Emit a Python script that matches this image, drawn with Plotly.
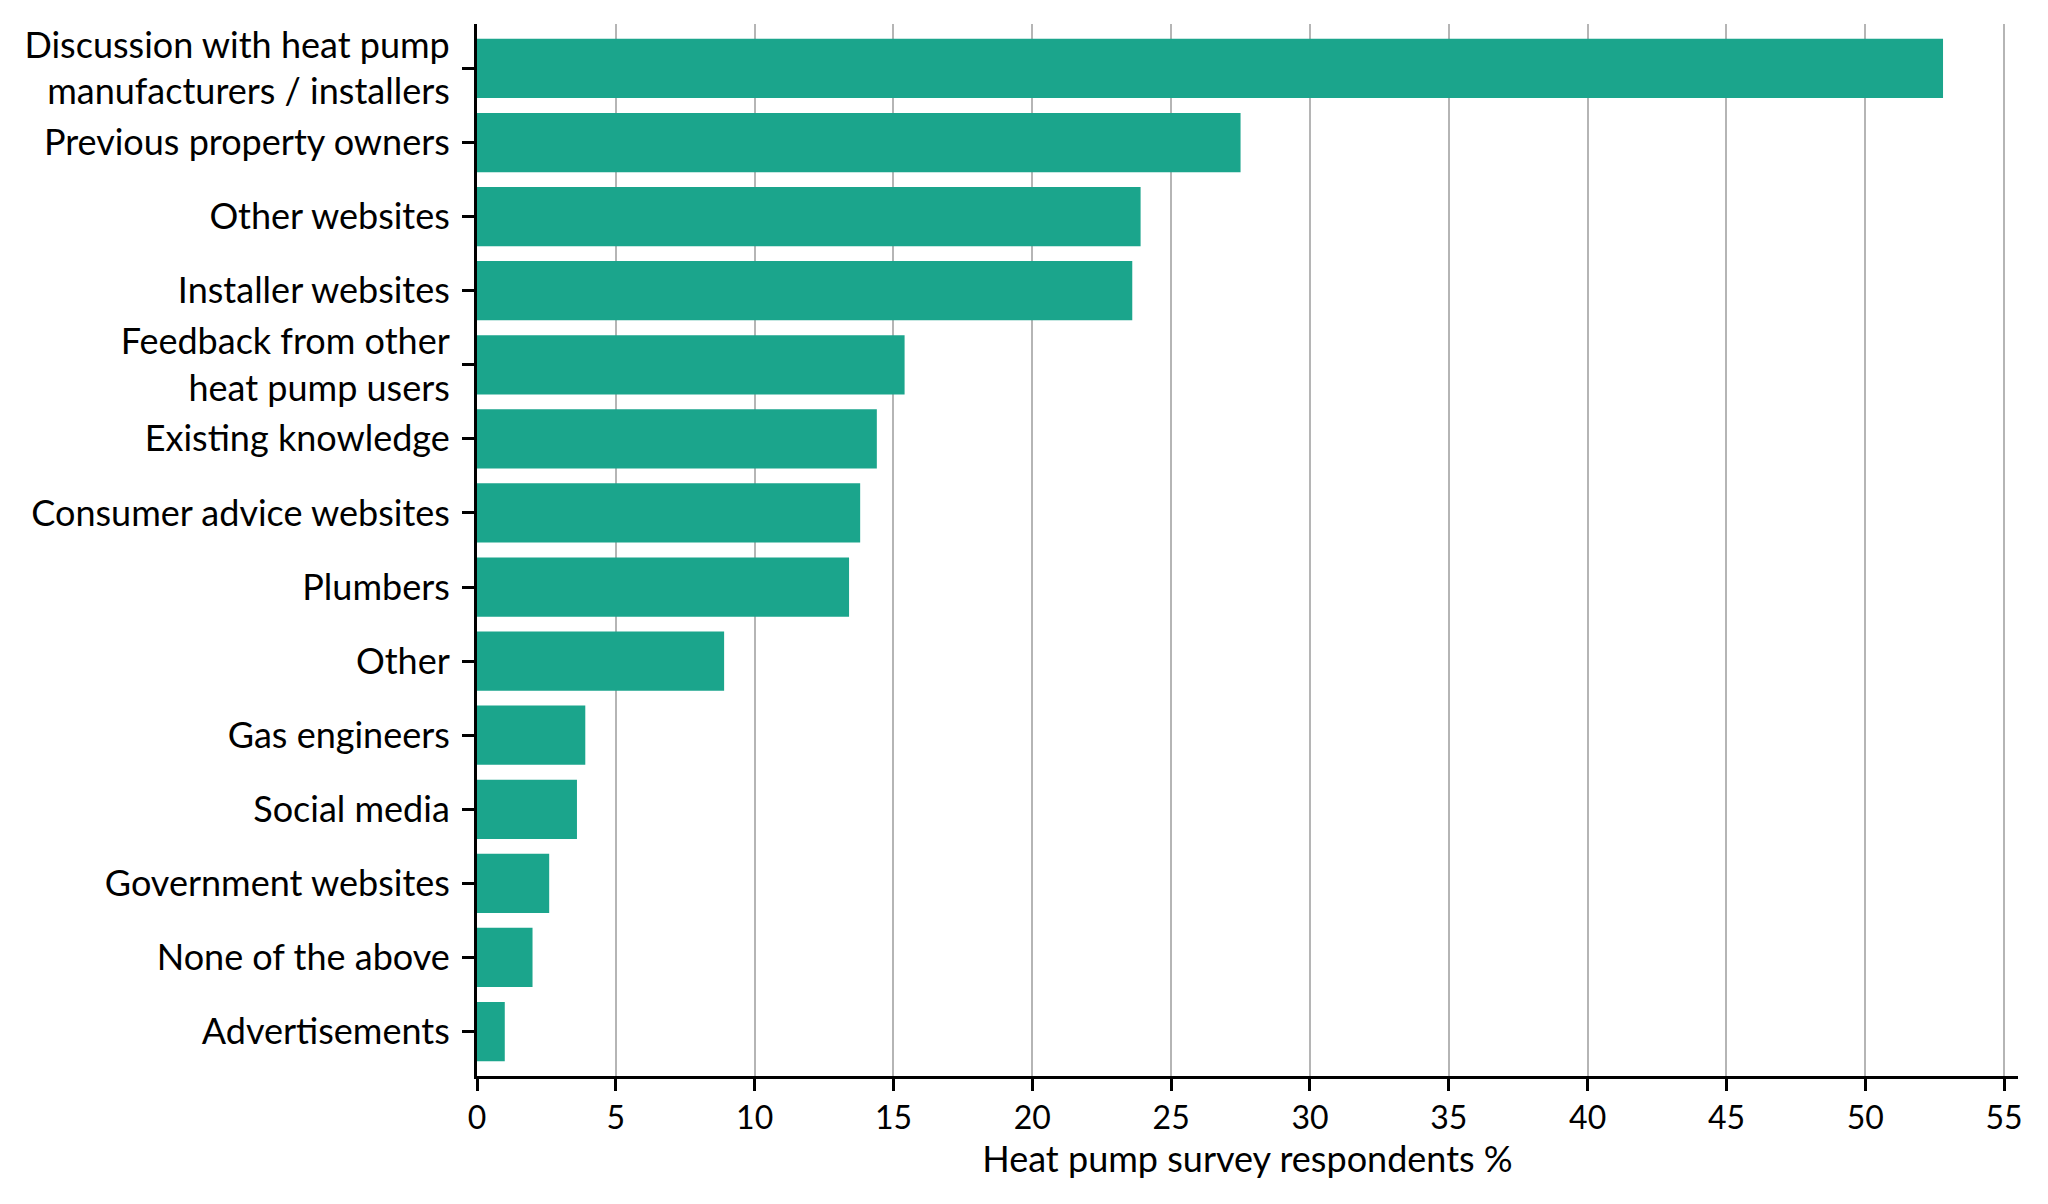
import plotly.graph_objects as go

# Fuentes de informacion (de arriba a abajo)
fuentes = [
    "Discussion with heat pump<br>manufacturers / installers",
    "Previous property owners",
    "Other websites",
    "Installer websites",
    "Feedback from other<br>heat pump users",
    "Existing knowledge",
    "Consumer advice websites",
    "Plumbers",
    "Other",
    "Gas engineers",
    "Social media",
    "Government websites",
    "None of the above",
    "Advertisements",
]
porcentajes = [52.8, 27.5, 23.9, 23.6, 15.4, 14.4, 13.8, 13.4, 8.9, 3.9, 3.6, 2.6, 2.0, 1.0]
ticks_x = list(range(0, 56, 5))

fig = go.Figure()
fig.add_trace(go.Bar(
    x=porcentajes,
    y=fuentes,
    orientation="h",
    marker=dict(color="#1ba58c", line=dict(width=0)),
))

fig.update_layout(
    width=2040,
    height=1196,
    plot_bgcolor="white",
    paper_bgcolor="white",
    margin=dict(l=469, r=30, t=16, b=128),
    bargap=0.2,
    showlegend=False,
    font=dict(family="Lato", size=32, color="black"),
)
fig.update_xaxes(
    range=[0, 55.5],
    tickvals=ticks_x,
    tickfont=dict(size=32),
    showgrid=True,
    gridcolor="#b5b5b5",
    gridwidth=2,
    zeroline=False,
    showline=True,
    linecolor="black",
    linewidth=3,
    ticks="outside",
    ticklen=12,
    tickwidth=3,
    tickcolor="black",
    title=dict(text="Heat pump survey respondents %", font=dict(size=36), standoff=6),
)
fig.update_yaxes(
    categoryorder="array",
    categoryarray=fuentes,
    autorange=False,
    range=[13.6, -0.6],
    tickfont=dict(size=36),
    showgrid=False,
    showline=True,
    linecolor="black",
    linewidth=3,
    ticks="outside",
    ticklen=12,
    tickwidth=3,
    tickcolor="black",
    ticklabelstandoff=5,
)

fig.write_html("out.html")
